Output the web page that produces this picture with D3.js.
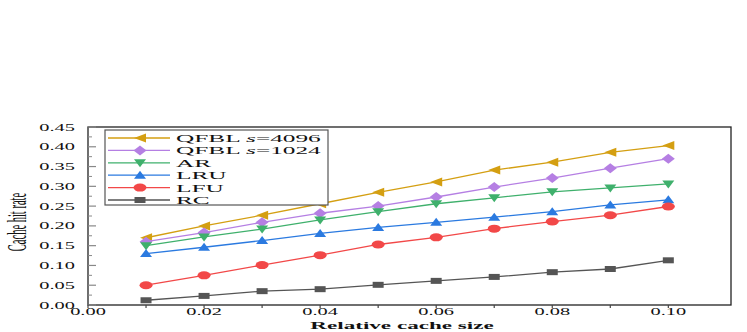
<!DOCTYPE html>
<html lang="en">
<head>
<meta charset="UTF-8">
<title>Cache hit rate</title>
<script src="https://d3js.org/d3.v7.min.js"></script>
<style>
  body { margin: 0; background: #fff; }
  text { font-family: "Liberation Serif", "Times New Roman", serif; fill: #111; }
</style>
</head>
<body>
<script>
// data
const sizes = [0.01, 0.02, 0.03, 0.04, 0.05, 0.06, 0.07, 0.08, 0.09, 0.10];
const qfbl4096 = [0.170, 0.200, 0.227, 0.256, 0.285, 0.311, 0.341, 0.361, 0.386, 0.403];
const qfbl1024 = [0.160, 0.183, 0.209, 0.232, 0.250, 0.273, 0.298, 0.321, 0.346, 0.370];
const ar = [0.150, 0.172, 0.192, 0.215, 0.236, 0.256, 0.271, 0.286, 0.296, 0.306];
const lru = [0.130, 0.146, 0.163, 0.181, 0.196, 0.209, 0.222, 0.236, 0.253, 0.266];
const lfu = [0.050, 0.075, 0.101, 0.126, 0.153, 0.171, 0.193, 0.211, 0.227, 0.249];
const rc = [0.012, 0.023, 0.035, 0.040, 0.051, 0.061, 0.071, 0.083, 0.091, 0.113];
const xTicks = [0, 0.02, 0.04, 0.06, 0.08, 0.10];
const yTicks = [0, 0.05, 0.10, 0.15, 0.20, 0.25, 0.30, 0.35, 0.40, 0.45];

const series = [
  {name: "QFBL", s: "4096", values: qfbl4096, color: "#d49f12", shape: "left"},
  {name: "QFBL", s: "1024", values: qfbl1024, color: "#b57fe3", shape: "diamond"},
  {name: "AR", values: ar, color: "#3fb06c", shape: "down"},
  {name: "LRU", values: lru, color: "#2b7ae0", shape: "up"},
  {name: "LFU", values: lfu, color: "#f24848", shape: "circle"},
  {name: "RC", values: rc, color: "#555555", shape: "square"}
];

const W = 747, H = 332;
const m = {left: 88, right: 16, top: 127, bottom: 27};
const sx = 2.15; // horizontal stretch of the original figure

const svg = d3.select("body").append("svg")
  .attr("width", W).attr("height", H);

const x = d3.scaleLinear().domain([0, 0.1108]).range([m.left, W - m.right]);
const y = d3.scaleLinear().domain([0, 0.45]).range([H - m.bottom, m.top]);

// frame
svg.append("rect")
  .attr("x", m.left).attr("y", m.top)
  .attr("width", W - m.right - m.left).attr("height", H - m.bottom - m.top)
  .attr("fill", "none").attr("stroke", "#222").attr("stroke-width", 1.3);

// y ticks (inward)
const yMinor = d3.range(0.025, 0.45, 0.05);
svg.selectAll(".ytick").data(yTicks).enter().append("line")
  .attr("x1", m.left).attr("x2", m.left + 8)
  .attr("y1", d => y(d)).attr("y2", d => y(d))
  .attr("stroke", "#888").attr("stroke-width", 1.2);
svg.selectAll(".yminor").data(yMinor).enter().append("line")
  .attr("x1", m.left).attr("x2", m.left + 4)
  .attr("y1", d => y(d)).attr("y2", d => y(d))
  .attr("stroke", "#888").attr("stroke-width", 1);

svg.selectAll(".ylab").data(yTicks).enter().append("text")
  .attr("transform", d => `translate(75,${y(d) + 3.5}) scale(${sx},1)`)
  .attr("text-anchor", "end").attr("font-size", 9.5)
  .text(d => d.toFixed(2));

// x ticks (outward)
const xMinor = d3.range(0.01, 0.11, 0.02);
svg.selectAll(".xtick").data(xTicks.concat(xMinor)).enter().append("line")
  .attr("x1", d => x(d)).attr("x2", d => x(d))
  .attr("y1", H - m.bottom).attr("y2", H - m.bottom + 3)
  .attr("stroke", "#444").attr("stroke-width", 1.2);

svg.selectAll(".xlab").data(xTicks).enter().append("text")
  .attr("transform", d => `translate(${x(d)},315) scale(${sx},1)`)
  .attr("text-anchor", "middle").attr("font-size", 9.5)
  .text(d => d.toFixed(2));

// axis titles
svg.append("text")
  .attr("transform", `translate(402,329) scale(2.2,1)`)
  .attr("text-anchor", "middle").attr("font-size", 10.5).attr("font-weight", "bold")
  .text("Relative cache size");

svg.append("text")
  .attr("transform", `translate(26,222) scale(2.5,1) rotate(-90)`)
  .attr("text-anchor", "middle").attr("font-size", 10.5)
  .text("Cache hit rate");

// markers
function marker(g, shape, color) {
  const p = g.append("path").attr("fill", color).attr("stroke", "none");
  let d;
  if (shape === "left") d = "M-6,0L6,-4.5L6,4.5Z";
  else if (shape === "diamond") d = "M-6.5,0L0,-5L6.5,0L0,5Z";
  else if (shape === "down") d = "M-6,-3.5L6,-3.5L0,4.5Z";
  else if (shape === "up") d = "M-6,3.5L6,3.5L0,-4.5Z";
  else if (shape === "square") d = "M-5.5,-3L5.5,-3L5.5,3L-5.5,3Z";
  if (shape === "circle") {
    p.remove();
    g.append("ellipse").attr("rx", 6.5).attr("ry", 4).attr("fill", color);
  } else p.attr("d", d);
}

const line = d3.line().x((d, i) => x(sizes[i])).y(d => y(d));

series.forEach(s => {
  svg.append("path").datum(s.values)
    .attr("d", line).attr("fill", "none")
    .attr("stroke", s.color).attr("stroke-width", 1.3);
  s.values.forEach((v, i) => {
    const g = svg.append("g").attr("transform", `translate(${x(sizes[i])},${y(v)})`);
    marker(g, s.shape, s.color);
  });
});

// legend
const lg = svg.append("g");
lg.append("rect").attr("x", 105).attr("y", 130).attr("width", 223).attr("height", 75)
  .attr("fill", "#fff").attr("stroke", "#555").attr("stroke-width", 1.2);

series.forEach((s, i) => {
  const ly = 138 + i * 12.4;
  lg.append("line").attr("x1", 108).attr("x2", 170).attr("y1", ly).attr("y2", ly)
    .attr("stroke", s.color).attr("stroke-width", 1.3);
  const g = lg.append("g").attr("transform", `translate(140,${ly})`);
  marker(g, s.shape, s.color);
  const t = lg.append("text")
    .attr("transform", `translate(176,${ly + 4}) scale(2.3,1)`)
    .attr("font-size", 11);
  if (s.s) {
    t.append("tspan").text(s.name + "  ");
    t.append("tspan").attr("font-style", "italic").text("s");
    t.append("tspan").text("=" + s.s);
  } else t.text(s.name);
});
</script>
</body>
</html>
